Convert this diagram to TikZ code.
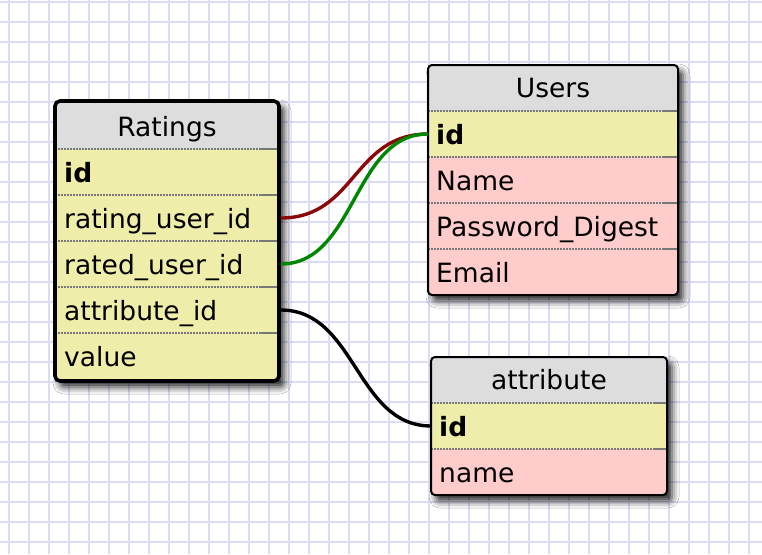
\documentclass[tikz,border=0pt]{standalone}
\usepackage{fontspec}
\setmainfont{DejaVu Sans}
\usetikzlibrary{shadows.blur}
\definecolor{gridc}{RGB}{220,220,245}
\definecolor{hdrgray}{RGB}{221,221,221}
\definecolor{rowyel}{RGB}{238,238,170}
\definecolor{rowpink}{RGB}{255,204,204}
\definecolor{sepgray}{RGB}{120,120,120}
\definecolor{linkred}{RGB}{140,8,8}
\definecolor{linkgreen}{RGB}{0,135,0}
\tikzset{
  gridline/.style={draw=gridc, line width=1.6pt},
  tablebg/.style={fill=white, draw=none, inner sep=0pt, outer sep=0pt, rounded corners=4pt,
    blur shadow={shadow xshift=5pt, shadow yshift=-6pt, shadow blur radius=7pt, shadow opacity=85}},
  rowbox/.style={draw=none, inner sep=0pt, outer sep=0pt},
  frame/.style={draw=black, rounded corners=4pt, line width=2pt},
  thickframe/.style={draw=black, rounded corners=5pt, line width=3.6pt},
  sepline/.style={draw=sepgray, line width=1.5pt, dash pattern=on 1.5pt off 1.5pt},
  septail/.style={draw=sepgray, line width=1.5pt},
  ftext/.style={inner sep=0pt, anchor=base west, font=\fontsize{26.5}{30}\selectfont},
  htext/.style={inner sep=0pt, anchor=base, font=\fontsize{26.5}{30}\selectfont},
  conn/.style={line width=3.4pt},
}
\begin{document}
\begin{tikzpicture}[x=1pt,y=-1pt]
\useasboundingbox (0,0) rectangle (762,554);
\fill[white] (0,0) rectangle (762,554);
\foreach \x in {9,29,...,749} \draw[gridline] (\x,0) -- (\x,554);
\foreach \y in {2,22,...,542} \draw[gridline] (0,\y) -- (762,\y);

% ---------- Ratings ----------
\node[tablebg, minimum width=224pt, minimum height=280pt] (ratings) at (167,241) {};
\begin{scope}
\clip[rounded corners=5pt] (ratings.south west) rectangle (ratings.north east);
\node[rowbox, fill=hdrgray, minimum width=224pt, minimum height=48pt] (rhdr) at (167,125) {};
\node[rowbox, fill=rowyel, minimum width=224pt, minimum height=46pt] (rid) at (167,172) {};
\node[rowbox, fill=rowyel, minimum width=224pt, minimum height=46pt] (rrating) at (167,218) {};
\node[rowbox, fill=rowyel, minimum width=224pt, minimum height=46pt] (rrated) at (167,264) {};
\node[rowbox, fill=rowyel, minimum width=224pt, minimum height=46pt] (rattr) at (167,310) {};
\node[rowbox, fill=rowyel, minimum width=224pt, minimum height=48pt] (rvalue) at (167,357) {};
\end{scope}
\foreach \r in {rid,rrating,rrated,rattr,rvalue}{
  \draw[sepline] (\r.north west) -- ([xshift=-18pt]\r.north east);
  \draw[septail] ([xshift=-18pt]\r.north east) -- (\r.north east);
}
\draw[thickframe] (ratings.south west) rectangle (ratings.north east);
\node[htext] (tratings) at (167,136) {Ratings};
\node[ftext] (trid) at (64,182) {\textbf{id}};
\node[ftext] (trrating) at (64,228) {rating\_user\_id};
\node[ftext] (trrated) at (64,274) {rated\_user\_id};
\node[ftext] (trattr) at (64,320) {attribute\_id};
\node[ftext] (trvalue) at (64,366) {value};

% ---------- Users ----------
\node[tablebg, minimum width=250pt, minimum height=230pt] (users) at (553,180) {};
\begin{scope}
\clip[rounded corners=4pt] (users.south west) rectangle (users.north east);
\node[rowbox, fill=hdrgray, minimum width=250pt, minimum height=46pt] (uhdr) at (553,88) {};
\node[rowbox, fill=rowyel, minimum width=250pt, minimum height=46pt] (uid) at (553,134) {};
\node[rowbox, fill=rowpink, minimum width=250pt, minimum height=46pt] (uname) at (553,180) {};
\node[rowbox, fill=rowpink, minimum width=250pt, minimum height=46pt] (upass) at (553,226) {};
\node[rowbox, fill=rowpink, minimum width=250pt, minimum height=46pt] (uemail) at (553,272) {};
\end{scope}
\foreach \r in {uid,uname,upass,uemail}{
  \draw[sepline] (\r.north west) -- ([xshift=-14pt]\r.north east);
  \draw[septail] ([xshift=-14pt]\r.north east) -- (\r.north east);
}
\draw[frame] (users.south west) rectangle (users.north east);
\node[htext] (tusers) at (553,97) {Users};
\node[ftext] (tuid) at (436,144) {\textbf{id}};
\node[ftext] (tuname) at (436,190) {Name};
\node[ftext] (tupass) at (436,236) {Password\_Digest};
\node[ftext] (tuemail) at (436,282) {Email};

% ---------- attribute ----------
\node[tablebg, minimum width=236pt, minimum height=138pt] (attr) at (549,426) {};
\begin{scope}
\clip[rounded corners=4pt] (attr.south west) rectangle (attr.north east);
\node[rowbox, fill=hdrgray, minimum width=236pt, minimum height=46pt] (ahdr) at (549,380) {};
\node[rowbox, fill=rowyel, minimum width=236pt, minimum height=46pt] (aid) at (549,426) {};
\node[rowbox, fill=rowpink, minimum width=236pt, minimum height=46pt] (aname) at (549,472) {};
\end{scope}
\foreach \r in {aid,aname}{
  \draw[sepline] (\r.north west) -- ([xshift=-14pt]\r.north east);
  \draw[septail] ([xshift=-14pt]\r.north east) -- (\r.north east);
}
\draw[frame] (attr.south west) rectangle (attr.north east);
\node[htext] (tattr) at (549,389) {attribute};
\node[ftext] (taid) at (439,436) {\textbf{id}};
\node[ftext] (taname) at (439,482) {name};

% ---------- connectors ----------
\draw[conn, linkred] ([xshift=1.8pt]rrating.east) .. controls +(75,0) and +(-75,0) .. (uid.west);
\draw[conn, linkgreen] ([xshift=1.8pt]rrated.east) .. controls +(75,0) and +(-75,0) .. (uid.west);
\draw[conn, black] ([xshift=1.8pt]rattr.east) .. controls +(75,0) and +(-75,0) .. (aid.west);
\end{tikzpicture}
\end{document}
